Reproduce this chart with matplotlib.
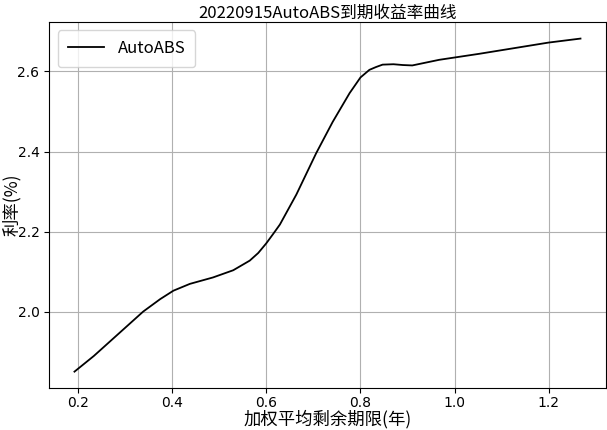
import matplotlib
matplotlib.use("Agg")
import matplotlib.pyplot as plt

plt.rcParams['font.family'] = ['Noto Sans CJK SC', 'DejaVu Sans']
plt.rcParams['axes.unicode_minus'] = False

term_years = [0.193, 0.234, 0.269, 0.304, 0.339, 0.375, 0.403, 0.438, 0.487, 0.530,
              0.565, 0.583, 0.600, 0.615, 0.629, 0.664, 0.706, 0.741, 0.777, 0.790,
              0.800, 0.819, 0.833, 0.847, 0.870, 0.890, 0.910, 0.967, 1.052, 1.199,
              1.267]
yield_pct = [1.851, 1.890, 1.927, 1.964, 2.001, 2.032, 2.053, 2.070, 2.086, 2.104,
             2.128, 2.147, 2.171, 2.195, 2.218, 2.293, 2.396, 2.474, 2.546, 2.568,
             2.585, 2.604, 2.611, 2.617, 2.618, 2.616, 2.615, 2.629, 2.644, 2.672,
             2.682]

title = '20220915AutoABS到期收益率曲线'
xlabel = '加权平均剩余期限(年)'
ylabel = '利率(%)'
series_name = 'AutoABS'

fig = plt.figure(figsize=(6.07, 4.30), dpi=100)
ax = fig.add_axes([0.081, 0.097, 0.917, 0.852])
ax.plot(term_years, yield_pct, color='black', lw=1.3, label=series_name)
ax.grid(True, color='#b0b0b0', lw=0.8)
ax.set_title(title, fontsize=12, pad=3)
ax.set_xlabel(xlabel, fontsize=12.5, va='center')
ax.set_ylabel(ylabel, fontsize=12.5, va='center')
ax.xaxis.set_label_coords(0.5, -0.085)
ax.yaxis.set_label_coords(-0.068, 0.5)
ax.tick_params(labelsize=10)
ax.tick_params(axis='x', pad=2)
ax.set_xticks([0.2, 0.4, 0.6, 0.8, 1.0, 1.2])
ax.set_yticks([2.0, 2.2, 2.4, 2.6])
for lbl in ax.get_xticklabels() + ax.get_yticklabels():
    lbl.set_family('DejaVu Sans')
ax.legend(loc='upper left', fontsize=12, handlelength=2.2, borderpad=0.6)
fig.savefig('out.png', dpi=100)
